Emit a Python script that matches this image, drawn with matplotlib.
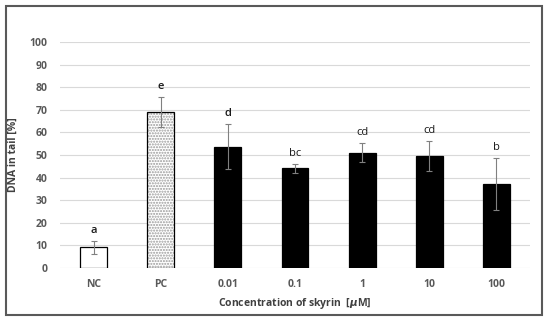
import numpy as np
import matplotlib
matplotlib.use("Agg")
from matplotlib import pyplot as plt
from matplotlib.patches import Rectangle

plt.rcParams["font.family"] = ["Open Sans", "DejaVu Sans"]
plt.rcParams["font.weight"] = "bold"

categories = ["NC", "PC", "0.01", "0.1", "1", "10", "100"]
means = [9.2, 69.0, 53.7, 44.1, 51.0, 49.5, 37.0]
errors = [2.8, 6.5, 9.9, 1.9, 4.2, 6.5, 11.5]
letters = ["a", "e", "d", "bc", "cd", "cd", "b"]
yticks = [0, 10, 20, 30, 40, 50, 60, 70, 80, 90, 100]

fig = plt.figure(figsize=(5.5, 3.21), dpi=100)
ax = fig.add_axes([60 / 550, 53 / 321, 470 / 550, 226 / 321])

x = np.arange(len(categories))
width = 0.4

for i, (m, e) in enumerate(zip(means, errors)):
    if i == 0:
        ax.bar(x[i], m, width, color="white", edgecolor="black", linewidth=0.9, zorder=3)
    elif i == 1:
        ax.bar(x[i], m, width, color="white", edgecolor="#9a9a9a", hatch="......",
               linewidth=0, zorder=3)
        ax.bar(x[i], m, width, color="none", edgecolor="black", linewidth=0.9, zorder=4)
    else:
        ax.bar(x[i], m, width, color="black", edgecolor="black", linewidth=0.9, zorder=3)
    ax.errorbar(x[i], m, yerr=e, fmt="none", ecolor="#808080", elinewidth=0.8,
                capsize=2, capthick=0.8, zorder=5)
    # letters over the skyrin doses look lighter in the original
    w = "semibold" if i < 3 else "normal"
    ax.text(x[i], m + e + 2.2, letters[i], ha="center", va="bottom",
            fontsize=8, fontweight=w, color="#1a1a1a")

ax.set_xlim(-0.5, len(categories) - 0.5)
ax.set_ylim(0, 100)
ax.set_yticks(yticks)
ax.set_xticks(x)
ax.set_xticklabels(categories)
ax.yaxis.grid(True, color="#d9d9d9", linewidth=0.8, zorder=0)
ax.set_axisbelow(True)
for s in ax.spines.values():
    s.set_visible(False)
ax.tick_params(axis="both", length=0, labelsize=7.5, labelcolor="#595959")
ax.tick_params(axis="y", pad=9)
ax.tick_params(axis="x", pad=8)
for lab in ax.get_xticklabels() + ax.get_yticklabels():
    lab.set_fontweight("bold")

ax.set_ylabel("DNA in tail [%]", fontsize=7.5, fontweight="bold", color="#404040", labelpad=8)
ax.set_xlabel(r"Concentration of skyrin  [$\mu$M]", fontsize=7.5, fontweight="bold",
              color="#404040", labelpad=4)

fig.patches.append(Rectangle((6 / 550, 6 / 321), 536 / 550, 309 / 321, transform=fig.transFigure,
                             fill=False, edgecolor="#595959", linewidth=1.5))

fig.savefig("out.png", dpi=100)
